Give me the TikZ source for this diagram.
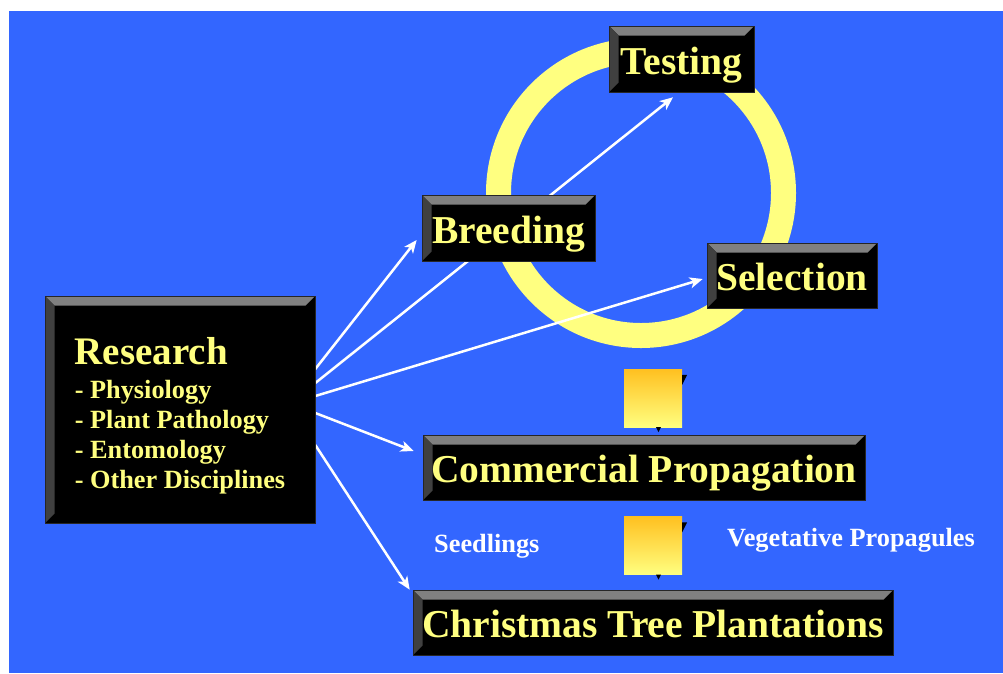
\documentclass[tikz,border=0pt]{standalone}
\usepackage{fontspec}
\setmainfont{Liberation Serif}
\usetikzlibrary{arrows.meta}

\definecolor{azul}{RGB}{51,102,255}
\definecolor{amarelo}{RGB}{255,255,128}
\definecolor{laranja}{RGB}{255,192,32}
\definecolor{cinza}{RGB}{128,128,128}
\definecolor{cinzaesc}{RGB}{64,64,64}

\pgfdeclarelayer{fundo}
\pgfdeclarelayer{meio}
\pgfsetlayers{fundo,meio,main}

\begin{document}
\begin{tikzpicture}[x=1pt,y=-1pt,
    caixa/.style={fill=black, draw=black!85, line width=0.6pt, inner sep=0pt,
        text=amarelo, font=\bfseries\fontsize{39.5}{41}\selectfont,
        text height=30pt, text depth=0pt,
        path picture={
            \fill[cinza] (path picture bounding box.north west) -- (path picture bounding box.north east)
                -- ([shift={(-9.5pt,-9.5pt)}]path picture bounding box.north east)
                -- ([shift={(9.5pt,-9.5pt)}]path picture bounding box.north west) -- cycle;
            \fill[cinzaesc] (path picture bounding box.north west)
                -- ([shift={(9.5pt,-9.5pt)}]path picture bounding box.north west)
                -- ([shift={(9.5pt,9.5pt)}]path picture bounding box.south west)
                -- (path picture bounding box.south west) -- cycle;}},
    quadro/.style={minimum size=58pt, inner sep=0pt, top color=laranja, bottom color=amarelo},
    seta/.style={draw=white, line width=2.5pt, -{Stealth[length=13pt,width=11pt,inset=3.5pt]}},
    rotulo/.style={text=white, font=\bfseries\fontsize{26.3}{30}\selectfont, inner sep=0pt}]
    \useasboundingbox (0,0) rectangle (1003,673);

    \begin{pgfonlayer}{fundo}
        \fill[azul] (9,11) rectangle (1003,673);
        \draw[amarelo, line width=25pt] (641,193) circle (142.5pt);
    \end{pgfonlayer}

    % caixas
    \node[caixa, minimum width=145pt, minimum height=66pt] (testing) at (681.5,59) {Testing};
    \node[caixa, minimum width=173pt, minimum height=66pt] (breeding) at (508.5,228) {Breeding};
    \node[caixa, minimum width=170pt, minimum height=65pt] (selection) at (792,275.5) {Selection};
    \node[caixa, minimum width=442pt, minimum height=65pt] (commercial) at (644,467.5) {Commercial Propagation};
    \node[caixa, minimum width=480pt, minimum height=65pt] (christmas) at (653,622.5) {Christmas Tree Plantations};
    \node[caixa, minimum width=270pt, minimum height=227pt, text height=, text depth=, align=left,
          font=\bfseries\fontsize{26.3}{30}\selectfont] (research) at (180,409.5)
        {\rule{0pt}{40pt}{\fontsize{39}{40}\selectfont Research}\\[4pt]
         - Physiology\\ - Plant Pathology\\ - Entomology\\ - Other Disciplines};

    % passos
    \node[quadro] (passo1) at (653,398) {};
    \fill[black] ([shift={(0pt,-6pt)}]passo1.north east) -- ([shift={(5pt,-6pt)}]passo1.north east) -- ([shift={(0pt,-16pt)}]passo1.north east) -- cycle;
    \fill[black] ([shift={(3pt,0pt)}]passo1.south) -- ([shift={(8pt,0pt)}]passo1.south) -- ([shift={(5.5pt,-5pt)}]passo1.south) -- cycle;
    \node[quadro] (passo2) at (653,545.5) {};
    \fill[black] ([shift={(0pt,-6pt)}]passo2.north east) -- ([shift={(5pt,-6pt)}]passo2.north east) -- ([shift={(0pt,-16pt)}]passo2.north east) -- cycle;
    \fill[black] ([shift={(3pt,0pt)}]passo2.south) -- ([shift={(8pt,0pt)}]passo2.south) -- ([shift={(5.5pt,-5pt)}]passo2.south) -- cycle;

    \node[rotulo, anchor=base west] (seedlings) at (434,552) {Seedlings};
    \node[rotulo, anchor=base west] (vegetative) at (727,546) {Vegetative Propagules};

    % setas
    \begin{pgfonlayer}{meio}
        \draw[seta] ([yshift=40.5pt]research.east) -- ([shift={(-5pt,-12pt)}]breeding.west);
        \draw[seta] ([yshift=26.5pt]research.east) -- ([shift={(-8.5pt,-5pt)}]testing.south);
        \draw[seta] ([yshift=13.5pt]research.east) -- ([shift={(-4pt,-3.5pt)}]selection.west);
        \draw[seta] ([yshift=-3.5pt]research.east) -- ([shift={(-9pt,16.5pt)}]commercial.west);
        \draw[seta] ([yshift=-35.5pt]research.east) -- ([shift={(-3pt,0pt)}]christmas.north west);
    \end{pgfonlayer}
\end{tikzpicture}
\end{document}
